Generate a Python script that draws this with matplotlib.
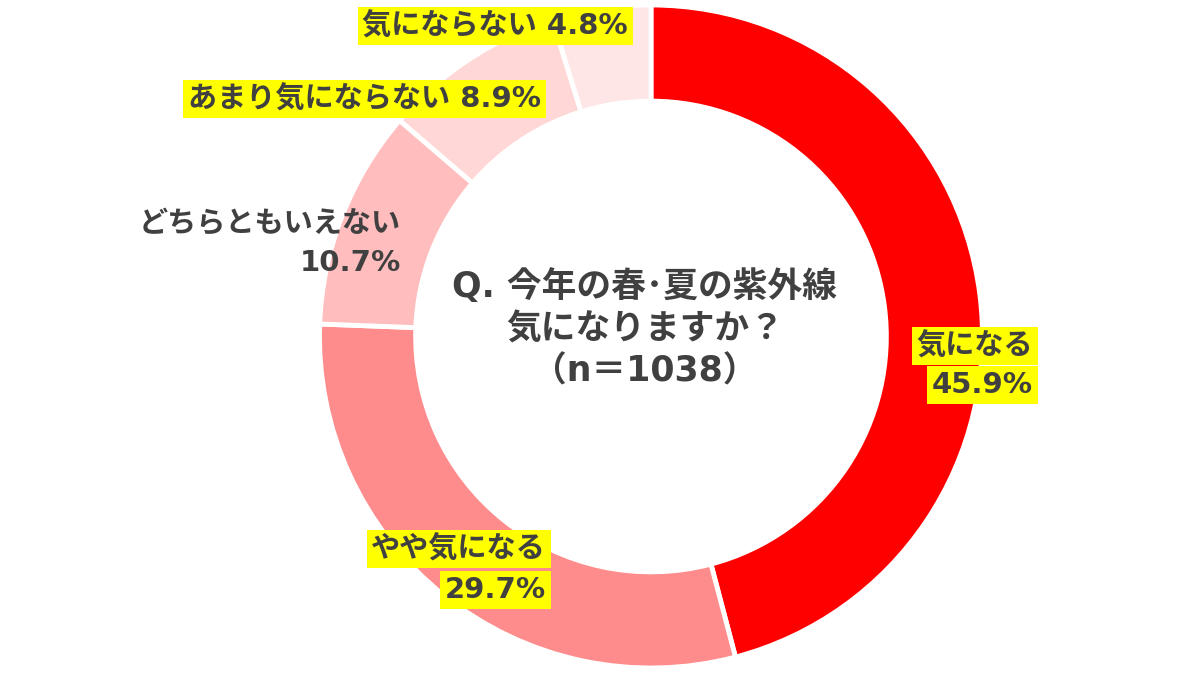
import matplotlib
matplotlib.use("Agg")
import matplotlib.pyplot as plt

# DejaVu for latin/digits (wide, like the original), Noto CJK for Japanese
plt.rcParams['font.family'] = ['DejaVu Sans', 'Noto Sans CJK JP']

# Data
categories = ["気になる", "やや気になる", "どちらともいえない", "あまり気にならない", "気にならない"]
values = [45.9, 29.7, 10.7, 8.9, 4.8]
colors = ["#FF0000", "#FF8C8C", "#FFBDBD", "#FFD7D7", "#FFE6E6"]
question = "Q. 今年の春･夏の紫外線\n気になりますか？\n（n＝1038）"

TEXT = "#404040"
YELLOW = "#FFFF00"
FS = 21

fig = plt.figure(figsize=(12, 6.75), dpi=100)
ax = fig.add_axes([0, 0, 1, 1])

cx, cy, r = 651, 338.5, 331.5
ax.pie(values, colors=colors, startangle=90, counterclock=False,
       center=(cx, cy), radius=r, frame=True,
       wedgeprops=dict(width=r * 0.29, edgecolor="white", linewidth=3.5))
ax.set_xlim(0, 1200)
ax.set_ylim(0, 675)
ax.set_aspect("equal")
ax.axis("off")


def label(x, y, s, ha="right", box=True):
    kw = dict(ha=ha, va="center", fontsize=FS, fontweight="bold", color=TEXT)
    if box:
        kw["bbox"] = dict(boxstyle="square,pad=0.16", fc=YELLOW, ec="none")
    ax.text(x, 675 - y, s, **kw)


def pct(v):
    return f"{v:.1f}%"


# 気になる
label(1033, 346, categories[0])
label(1033, 385, pct(values[0]))
# やや気になる
label(546, 549, categories[1])
label(546, 590, pct(values[1]))
# どちらともいえない
label(401, 224, categories[2], box=False)
label(401, 263, pct(values[2]), box=False)
# あまり気にならない
label(541, 99, f"{categories[3]} {pct(values[3])}")
# 気にならない
label(628, 26, f"{categories[4]} {pct(values[4])}")

ax.text(645, 675 - 329, question, ha="center", va="center", fontsize=25,
        fontweight="bold", color=TEXT, linespacing=1.3)

fig.savefig("out.png", dpi=100, facecolor="white")
